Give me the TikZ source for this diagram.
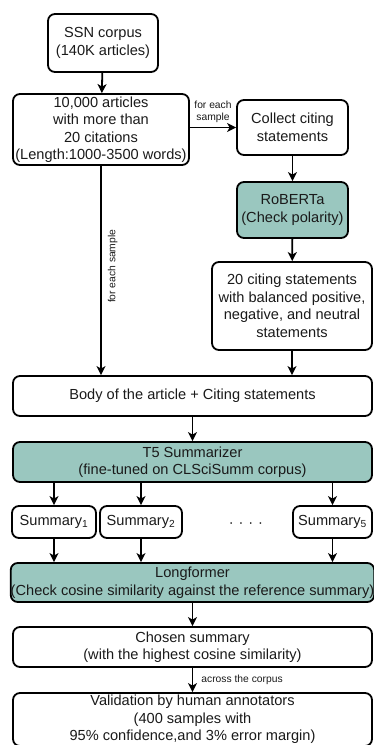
\documentclass[tikz,border=0pt]{standalone}
\usepackage{fontspec}
\setmainfont{Liberation Sans}
\usetikzlibrary{arrows.meta}
\definecolor{tealfill}{HTML}{9AC7BF}
\definecolor{ink}{HTML}{1A1A1A}
\begin{document}
\begin{tikzpicture}[x=1pt,y=-1pt,
  box/.style={draw=black, line width=1.8pt, rounded corners=7pt, align=center,
    inner sep=0pt, text=ink, font=\fontsize{14.6}{17.5}\selectfont},
  greenbox/.style={box, fill=tealfill},
  arr/.style={line width=1.8pt, -{Stealth[length=9pt,width=9pt,inset=2.5pt]}},
  lbl/.style={font=\fontsize{10.3}{12.4}\selectfont, align=center, inner sep=0pt, text=ink},
]
\useasboundingbox (0,0) rectangle (373,745);

\node[box, minimum width=110pt, minimum height=58pt] (ssn) at (103,43) {SSN corpus\\(140K articles)};
\node[box, minimum width=176pt, minimum height=71pt] (art) at (101,129.5)
  {10,000 articles\\with more than\\20 citations\\(Length:1000-3500 words)};
\node[box, minimum width=111pt, minimum height=55pt] (col) at (292.5,127.5) {Collect citing\\statements};
\node[greenbox, minimum width=111pt, minimum height=56pt] (rob) at (292.5,210) {RoBERTa\\(Check polarity)};
\node[box, minimum width=160pt, minimum height=88pt] (twenty) at (292,306)
  {20 citing statements\\with balanced positive,\\negative, and neutral\\statements};
\node[box, minimum width=359pt, minimum height=40pt] (body) at (192.5,396) {Body of the article + Citing statements};
\node[greenbox, minimum width=359pt, minimum height=40pt] (t5) at (192.5,462) {T5 Summarizer\\(fine-tuned on CLSciSumm corpus)};
\node[box, minimum width=84pt, minimum height=32pt] (s1) at (54,522) {Summary\textsubscript{1}};
\node[box, minimum width=82pt, minimum height=32pt] (s2) at (141,522) {Summary\textsubscript{2}};
\node[box, minimum width=79pt, minimum height=32pt] (s5) at (332.5,522) {Summary\textsubscript{5}};
\node[lbl, font=\fontsize{14.6}{17.5}\selectfont] (dots) at (246,525) {·\,\,·\,\,·\,\,·};
\node[greenbox, minimum width=359pt, minimum height=39pt] (long) at (192.5,582.5)
  {Longformer\\(Check cosine similarity against the reference summary)};
\node[box, minimum width=359pt, minimum height=40pt] (chosen) at (192.5,647)
  {Chosen summary\\(with the highest cosine similarity)};
\node[box, minimum width=359pt, minimum height=53pt] (val) at (192.5,719.5)
  {Validation by human annotators\\(400 samples with\\95\% confidence,and 3\% error margin)};

\draw[arr] (ssn) -- (art);
\draw[arr] (art.east |- col.west) -- node[lbl, above=4pt] (fe1) {for each\\sample} (col.west);
\draw[arr] (col) -- (rob);
\draw[arr] (rob) -- (twenty);
\draw[arr] (art.south) -- node[lbl, rotate=90, below=6pt, pos=0.48] (fe2) {for each sample} (art.south |- body.north);
\draw[arr] (twenty.south) -- (twenty.south |- body.north);
\draw[arr] (body) -- (t5);
\draw[arr] (s1.north |- t5.south) -- (s1.north);
\draw[arr] (s2.north |- t5.south) -- (s2.north);
\draw[arr] (s5.north |- t5.south) -- (s5.north);
\draw[arr] (s1.south) -- (s1.south |- long.north);
\draw[arr] (s2.south) -- (s2.south |- long.north);
\draw[arr] (s5.south) -- (s5.south |- long.north);
\draw[arr] (long) -- (chosen);
\draw[arr] (chosen) -- node[lbl, right=8pt] (acr) {across the corpus} (val);
\end{tikzpicture}
\end{document}
